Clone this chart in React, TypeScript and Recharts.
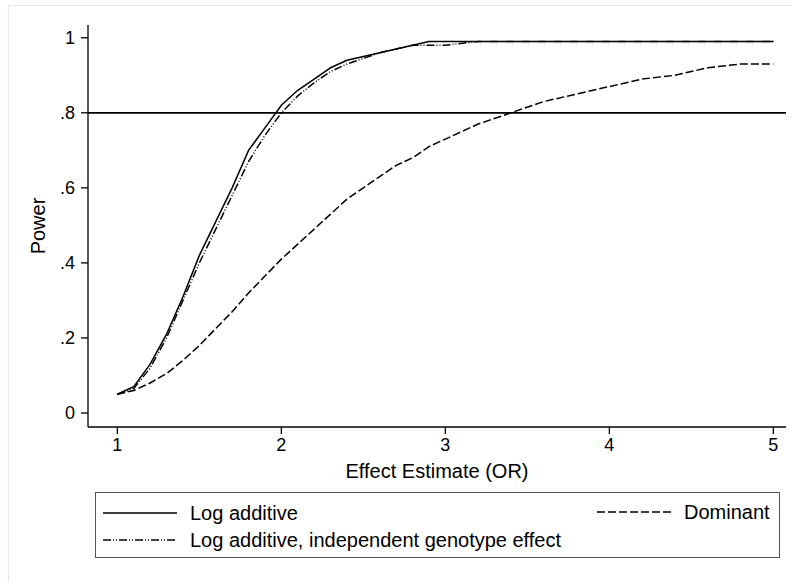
import { LineChart, Line, XAxis, YAxis, ReferenceLine } from "recharts";

// Odds ratio grid and power under each model
const OR = [1, 1.1, 1.2, 1.3, 1.4, 1.5, 1.6, 1.7, 1.8, 1.9, 2, 2.1, 2.2, 2.3, 2.4, 2.5, 2.6, 2.7, 2.8, 2.9, 3, 3.2, 3.4, 3.6, 3.8, 4, 4.2, 4.4, 4.6, 4.8, 5];
const LOG_ADDITIVE = [0.05, 0.07, 0.13, 0.21, 0.31, 0.42, 0.51, 0.6, 0.7, 0.76, 0.82, 0.86, 0.89, 0.92, 0.94, 0.95, 0.96, 0.97, 0.98, 0.99, 0.99, 0.99, 0.99, 0.99, 0.99, 0.99, 0.99, 0.99, 0.99, 0.99, 0.99];
const INDEPENDENT = [0.05, 0.065, 0.12, 0.2, 0.3, 0.4, 0.49, 0.58, 0.67, 0.74, 0.8, 0.845, 0.88, 0.91, 0.93, 0.945, 0.96, 0.97, 0.98, 0.98, 0.98, 0.99, 0.99, 0.99, 0.99, 0.99, 0.99, 0.99, 0.99, 0.99, 0.99];
const DOMINANT = [0.05, 0.06, 0.08, 0.105, 0.14, 0.18, 0.225, 0.27, 0.32, 0.365, 0.41, 0.45, 0.49, 0.53, 0.57, 0.6, 0.63, 0.66, 0.68, 0.71, 0.73, 0.77, 0.8, 0.83, 0.85, 0.87, 0.89, 0.9, 0.92, 0.93, 0.93];

const X_TICKS = [1, 2, 3, 4, 5];
const Y_TICKS = [0, 0.2, 0.4, 0.6, 0.8, 1];
const TARGET_POWER = 0.8;

const SERIES = [
  { key: "logAdd", name: "Log additive", dash: undefined as string | undefined },
  { key: "indep", name: "Log additive, independent genotype effect", dash: "8 2 1 2 1 2" },
  { key: "dom", name: "Dominant", dash: "8 3" },
];

const data = OR.map((or, i) => ({
  or,
  logAdd: LOG_ADDITIVE[i],
  indep: INDEPENDENT[i],
  dom: DOMINANT[i],
}));

const FONT = "'Liberation Sans', Arial, Helvetica, sans-serif";

// Stata-style tick labels: ".8" instead of "0.8"
const fmtY = (v: number) => (v === 0 || v === 1 ? String(v) : String(v).replace(/^0/, ""));

function Sample({ dash }: { dash?: string }) {
  return (
    <svg width={74} height={6} style={{ display: "block" }}>
      <line x1={0} y1={3} x2={74} y2={3} stroke="#000" strokeWidth={1.5} strokeDasharray={dash} />
    </svg>
  );
}

function LegendBox() {
  const item = (s: (typeof SERIES)[number], left: number, top: number) => (
    <div style={{ position: "absolute", left, top, display: "flex", alignItems: "center", gap: 13, whiteSpace: "nowrap" }}>
      <Sample dash={s.dash} />
      <span style={{ fontSize: 20, lineHeight: "24px" }}>{s.name}</span>
    </div>
  );
  return (
    <div style={{ position: "absolute", left: 95, top: 492, width: 685, height: 66, boxSizing: "border-box", border: "1px solid #555" }}>
      {item(SERIES[0], 7, 8)}
      {item(SERIES[1], 7, 35)}
      {item(SERIES[2], 501, 7)}
    </div>
  );
}

export default function App() {
  return (
    <div style={{ position: "absolute", left: 0, top: 0, width: 792, height: 582, overflow: "hidden", background: "#fff", fontFamily: FONT, color: "#000" }}>
      <div style={{ position: "absolute", left: 8, top: 5, width: 784, height: 577, boxSizing: "border-box", borderLeft: "1px solid #e3eaee", borderTop: "1px solid #e3eaee" }} />
      <div style={{ position: "absolute", left: 0, top: 0 }}>
        <LineChart width={792} height={582} data={data} margin={{ top: 25, right: 6, left: 28, bottom: 95 }}>
          <XAxis
            dataKey="or"
            type="number"
            domain={[0.821, 5.077]}
            ticks={X_TICKS}
            allowDataOverflow
            height={60}
            tickSize={7}
            tickMargin={4}
            stroke="#000"
            strokeWidth={1.3}
            tick={{ fill: "#000", fontSize: 18 }}
            label={{ value: "Effect Estimate (OR)", position: "insideBottom", offset: 9, fill: "#000", fontSize: 20 }}
          />
          <YAxis
            type="number"
            domain={[-0.0373, 1.034]}
            ticks={Y_TICKS}
            allowDataOverflow
            width={60}
            tickSize={7}
            tickMargin={6}
            stroke="#000"
            strokeWidth={1.3}
            tickFormatter={fmtY}
            tick={{ fill: "#000", fontSize: 18 }}
            label={{ value: "Power", angle: -90, position: "insideLeft", offset: 10, fill: "#000", fontSize: 20, style: { textAnchor: "middle" } }}
          />
          <ReferenceLine y={TARGET_POWER} stroke="#000" strokeWidth={1.8} />
          {SERIES.map((s) => (
            <Line
              key={s.key}
              dataKey={s.key}
              name={s.name}
              type="linear"
              stroke="#000"
              strokeWidth={1.5}
              strokeDasharray={s.dash}
              dot={false}
              isAnimationActive={false}
            />
          ))}
        </LineChart>
      </div>
      <LegendBox />
    </div>
  );
}
